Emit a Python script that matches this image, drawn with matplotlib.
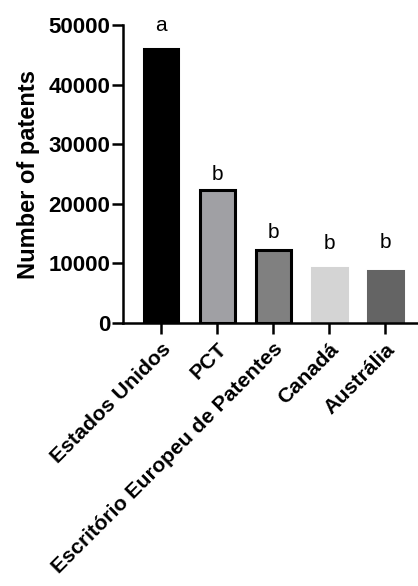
import matplotlib
matplotlib.use('Agg')
import matplotlib.pyplot as plt

# data
offices = ['Estados Unidos', 'PCT', 'Escritório Europeu de Patentes', 'Canadá', 'Austrália']
patents = [46000, 22400, 12200, 9200, 8700]
letters = ['a', 'b', 'b', 'b', 'b']
fill_colors = ['#000000', '#a0a0a4', '#808080', '#d4d4d4', '#646464']
edge_colors = ['#000000', '#000000', '#000000', '#d4d4d4', '#646464']
letter_gap = [10, 4, 6, 11, 14]  # points between bar top and letter

plt.rcParams['font.family'] = ['Liberation Sans', 'DejaVu Sans']

fig = plt.figure(figsize=(4.18, 5.86), dpi=100)
ax = fig.add_axes([0.294, 0.449, 0.706, 0.508])

x = range(len(offices))
bars = ax.bar(x, patents, width=0.62, color=fill_colors, edgecolor=edge_colors, linewidth=2.2)

for xi, val, lab, gap in zip(x, patents, letters, letter_gap):
    ax.annotate(lab, (xi, val), xytext=(0, gap), textcoords='offset points',
                ha='center', va='bottom', fontsize=15)

ax.set_xlim(-0.68, 4.58)
ax.set_ylim(0, 50000)
ax.set_yticks([0, 10000, 20000, 30000, 40000, 50000])
ax.set_xticks(list(x))
ax.set_xticklabels(offices, rotation=45, ha='right', rotation_mode='anchor',
                   fontsize=15.3, fontweight='bold')
for t in ax.get_yticklabels():
    t.set_fontweight('bold')
    t.set_fontsize(16)
ax.set_ylabel('Number of patents', fontsize=17, fontweight='bold', labelpad=6)

ax.spines['top'].set_visible(False)
ax.spines['right'].set_visible(False)
ax.spines['left'].set_linewidth(1.8)
ax.spines['bottom'].set_linewidth(1.8)
ax.tick_params(axis='y', width=1.8, length=8, pad=1)
ax.tick_params(axis='x', width=1.8, length=8, pad=4)

fig.savefig('out.png', dpi=100)
